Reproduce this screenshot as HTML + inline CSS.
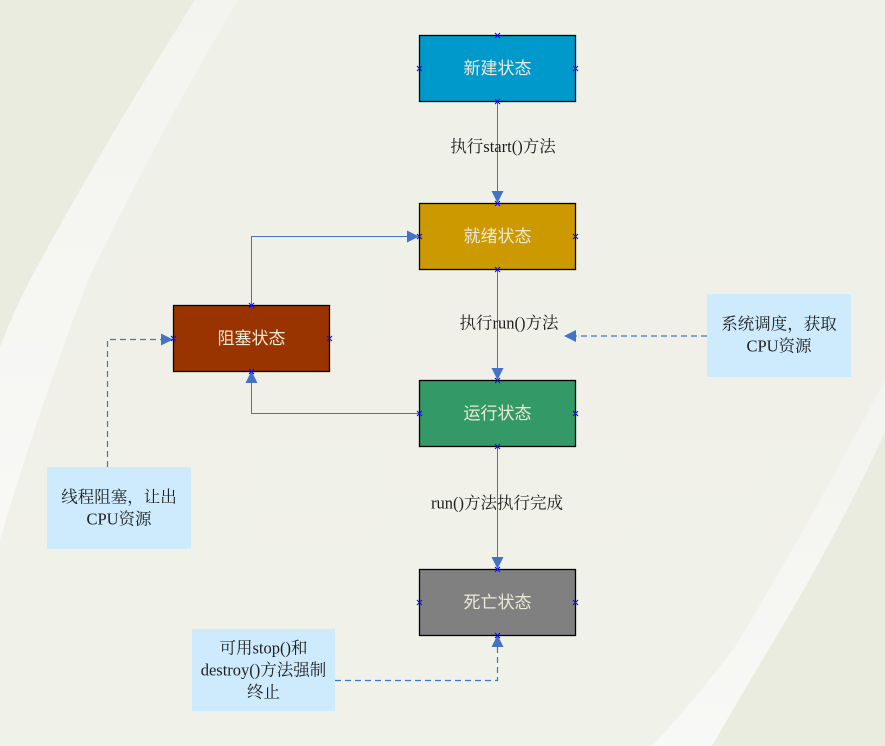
<!DOCTYPE html>
<html>
<head>
<meta charset="utf-8">
<style>
html,body{margin:0;padding:0;width:885px;height:746px;overflow:hidden;background:#f1f2ea;}
svg{display:block;}
.box{font-family:"Liberation Sans","Noto Sans CJK SC",sans-serif;font-size:17px;fill:#ece9d6;}
.lbl{font-family:"Liberation Serif","Noto Serif CJK SC",serif;font-size:16.5px;fill:#1e1e1e;}
</style>
</head>
<body>
<svg width="885" height="746" viewBox="0 0 885 746" xmlns="http://www.w3.org/2000/svg">
  <defs>
    <linearGradient id="bg" x1="0" y1="0" x2="0" y2="1">
      <stop offset="0" stop-color="#eff0e8"/>
      <stop offset="1" stop-color="#f0f1e8"/>
    </linearGradient>
    <linearGradient id="band" x1="0" y1="0" x2="0" y2="1">
      <stop offset="0" stop-color="#f3f4ef"/>
      <stop offset="1" stop-color="#f8f8f6"/>
    </linearGradient>
  </defs>
  <rect x="0" y="0" width="885" height="746" fill="url(#bg)"/>
  <!-- left dark region -->
  <path d="M0,0 L195,0 Q100,150 30,280 Q12,315 0,347 Z" fill="#ebece0"/>
  <!-- left swoosh band -->
  <path d="M195,0 Q100,150 30,280 Q12,315 0,347 L0,540 Q35,420 88,280 Q160,130 238,0 Z" fill="url(#band)"/>
  <!-- right dark region -->
  <path d="M885,432 Q835,540 770,647 Q740,697 712,746 L885,746 Z" fill="#ebece0"/>
  <!-- right swoosh band -->
  <path d="M885,380 Q800,540 735,647 Q695,700 652,746 L712,746 Q740,697 770,647 Q835,540 885,432 Z" fill="url(#band)"/>

  <!-- callouts -->
  <rect x="707" y="294" width="144" height="83" fill="#cdebfd"/>
  <rect x="47" y="467" width="144" height="82" fill="#cdebfd"/>
  <rect x="192" y="629" width="143" height="82" fill="#cdebfd"/>

  <!-- solid connectors -->
  <g stroke="#4472c4" stroke-width="1" fill="none">
    <line x1="497.5" y1="101" x2="497.5" y2="192"/>
    <line x1="497.5" y1="269" x2="497.5" y2="369"/>
    <line x1="497.5" y1="446" x2="497.5" y2="558"/>
    <path d="M251.5,305 V236.5 H408"/>
    <path d="M419,413.5 H251.5 V382"/>
  </g>
  <!-- dashed connectors -->
  <g stroke="#4472c4" stroke-width="1.2" fill="none" stroke-dasharray="6,4">
    <path d="M707,336 H576"/>
    <path d="M107.5,467 V339.5 H161"/>
    <path d="M335,680.5 H497.5 V647"/>
  </g>
  <!-- arrowheads -->
  <g fill="#4472c4">
    <polygon points="491.5,191 503.5,191 497.5,203"/>
    <polygon points="491.5,368 503.5,368 497.5,380"/>
    <polygon points="491.5,557 503.5,557 497.5,569"/>
    <polygon points="407,230.5 407,242.5 419,236.5"/>
    <polygon points="245.5,383 257.5,383 251.5,371"/>
    <polygon points="576,330 576,342 564,336"/>
    <polygon points="161,333.5 161,345.5 173,339.5"/>
    <polygon points="491.5,647 503.5,647 497.5,635"/>
  </g>

  <!-- state boxes -->
  <g stroke="#000" stroke-width="1.3">
    <rect x="419.5" y="35.5" width="156" height="66" fill="#0099cc"/>
    <rect x="419.5" y="203.5" width="156" height="66" fill="#cc9900"/>
    <rect x="173.5" y="305.5" width="156" height="66" fill="#993300"/>
    <rect x="419.5" y="380.5" width="156" height="66" fill="#339966"/>
    <rect x="419.5" y="569.5" width="156" height="66" fill="#808080"/>
  </g>

  <!-- connection markers -->
  <g stroke="#1010e0" stroke-width="1.1">
    <path d="M495,33 l5,5 m0,-5 l-5,5
             M417,66 l5,5 m0,-5 l-5,5
             M573,66 l5,5 m0,-5 l-5,5
             M495,99 l5,5 m0,-5 l-5,5
             M495,201 l5,5 m0,-5 l-5,5
             M417,234 l5,5 m0,-5 l-5,5
             M573,234 l5,5 m0,-5 l-5,5
             M495,267 l5,5 m0,-5 l-5,5
             M249,303 l5,5 m0,-5 l-5,5
             M171,336 l5,5 m0,-5 l-5,5
             M327,336 l5,5 m0,-5 l-5,5
             M249,369 l5,5 m0,-5 l-5,5
             M495,378 l5,5 m0,-5 l-5,5
             M417,411 l5,5 m0,-5 l-5,5
             M573,411 l5,5 m0,-5 l-5,5
             M495,444 l5,5 m0,-5 l-5,5
             M495,567 l5,5 m0,-5 l-5,5
             M417,600 l5,5 m0,-5 l-5,5
             M573,600 l5,5 m0,-5 l-5,5
             M495,633 l5,5 m0,-5 l-5,5"/>
  </g>

  <!-- box labels -->
  <g class="box" text-anchor="middle" dominant-baseline="central">
    <text x="497.5" y="68.5">新建状态</text>
    <text x="497.5" y="236.5">就绪状态</text>
    <text x="251.5" y="338.5">阻塞状态</text>
    <text x="497.5" y="413.5">运行状态</text>
    <text x="497.5" y="602.5">死亡状态</text>
  </g>

  <!-- connector labels -->
  <g class="lbl" text-anchor="middle" dominant-baseline="central">
    <text x="503" y="146.5">执行start()方法</text>
    <text x="509" y="323">执行run()方法</text>
    <text x="497" y="503">run()方法执行完成</text>
    <text x="779" y="324">系统调度，获取</text>
    <text x="779" y="346">CPU资源</text>
    <text x="119" y="497">线程阻塞，让出</text>
    <text x="119" y="519">CPU资源</text>
    <text x="263.5" y="648">可用stop()和</text>
    <text x="263.5" y="670">destroy()方法强制</text>
    <text x="263.5" y="692">终止</text>
  </g>
</svg>
</body>
</html>
